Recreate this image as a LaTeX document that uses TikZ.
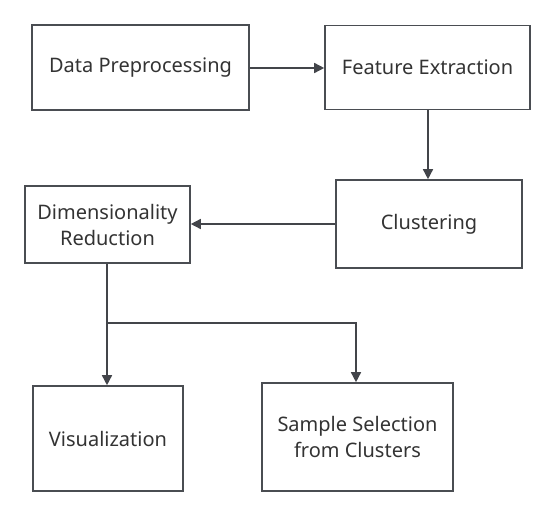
\documentclass[tikz,border=0pt]{standalone}
\usepackage{fontspec}
\setmainfont{Noto Sans}
\usetikzlibrary{arrows.meta}
\definecolor{edge}{HTML}{4A4D52}
\definecolor{txt}{HTML}{333333}
\begin{document}
\begin{tikzpicture}[x=1pt,y=-1pt,
  box/.style={draw=edge,line width=1.6pt,inner sep=0pt,align=center,text=txt,font=\fontsize{20}{26}\selectfont},
  conn/.style={draw=edge!90!black,line width=1.5pt,-{Triangle[length=10pt,width=10pt]}}]
\useasboundingbox (0,0) rectangle (559,516);
\node[box,minimum width=217pt,minimum height=85pt] (dp) at (140.5,67.5) {Data Preprocessing};
\node[box,minimum width=205pt,minimum height=84pt] (fe) at (427.5,67.5) {Feature Extraction};
\node[box,minimum width=186pt,minimum height=88pt] (cl) at (429,224) {Clustering};
\node[box,minimum width=165pt,minimum height=77pt] (dr) at (107.5,224.5) {Dimensionality\\Reduction};
\node[box,minimum width=150pt,minimum height=105pt] (vi) at (108,438.5) {Visualization};
\node[box,minimum width=191pt,minimum height=108pt] (ss) at (357.5,437) {Sample Selection\\from Clusters};
\coordinate (br) at (107,323);
\draw[conn] (dp.east |- 0,68) -- (fe.west |- 0,68);
\draw[conn] (fe.south -| 428,0) -- (cl.north -| 428,0);
\draw[conn] (cl.west) -- (dr.east |- cl.west);
\draw[conn] (dr.south -| br) -- (vi.north -| br);
\draw[conn] (br) -| (ss.north -| 356,0);
\end{tikzpicture}
\end{document}
